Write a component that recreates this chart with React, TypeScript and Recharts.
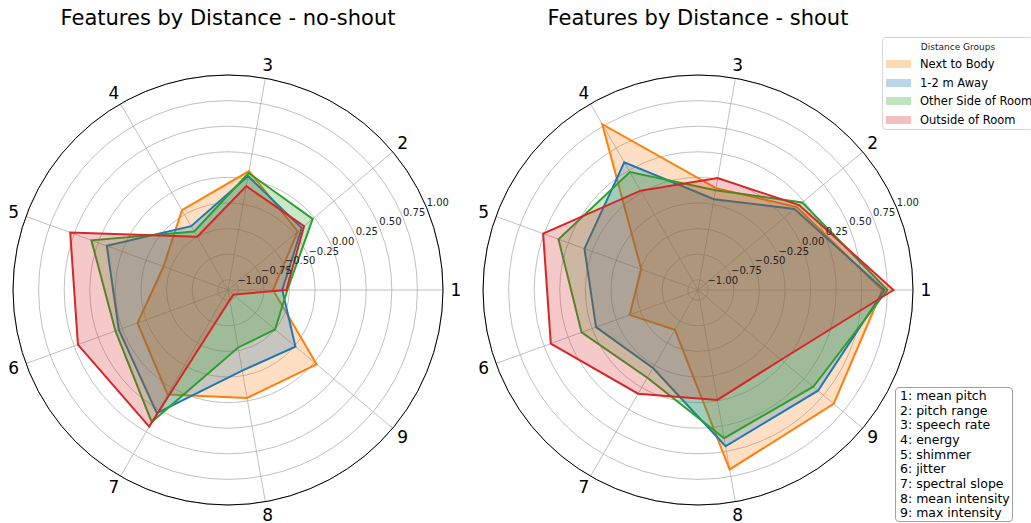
import { RadarChart, Radar, PolarGrid, PolarAngleAxis, PolarRadiusAxis } from 'recharts';

const AXES = ['1', '2', '3', '4', '5', '6', '7', '8', '9'];
const FEATURES = [
  'mean pitch',
  'pitch range',
  'speech rate',
  'energy',
  'shimmer',
  'jitter',
  'spectral slope',
  'mean intensity',
  'max intensity',
];
const RADIUS_TICKS = [-1, -0.75, -0.5, -0.25, 0, 0.25, 0.5, 0.75, 1];

const SERIES = [
  { key: 'next', name: 'Next to Body', color: '#ff7f0e' },
  { key: 'near', name: '1-2 m Away', color: '#1f77b4' },
  { key: 'side', name: 'Other Side of Room', color: '#2ca02c' },
  { key: 'outside', name: 'Outside of Room', color: '#d62728' },
];

// no-shout
const noShoutNext = [-0.66, -0.21, 0.08, -0.2, -0.43, -0.16, 0.08, -0.03, 0.03];
const noShoutNear = [-0.57, -0.16, 0.03, -0.38, 0.16, 0.035, 0.29, -0.3, -0.24];
const noShoutSide = [-0.52, -0.02, 0.06, -0.44, 0.32, 0.07, 0.39, -0.53, -0.5];
const noShoutOutside = [-0.53, -0.13, -0.07, -0.5, 0.54, 0.46, 0.44, -1.0, -1.03];

// shout
const shoutNext = [0.7, 0.16, -0.09, 0.77, -0.51, -0.39, -0.65, 0.68, 0.63];
const shoutNear = [0.72, 0.13, -0.2, 0.34, 0.08, -0.04, -0.22, 0.45, 0.43];
const shoutSide = [0.75, 0.23, -0.11, 0.23, 0.35, 0.11, -0.11, 0.37, 0.37];
const shoutOutside = [0.81, 0.19, 0.01, 0.02, 0.51, 0.43, 0.07, -0.01, -0.04];

// recharts only lines ticks and points up when going clockwise, so the
// categories are fed as 1, 9, 8, ... 2 to read counter-clockwise like the original
const ORDER = [0, 8, 7, 6, 5, 4, 3, 2, 1];

const buildData = (next: number[], near: number[], side: number[], outside: number[]) =>
  ORDER.map((i) => ({ axis: AXES[i], next: next[i], near: near[i], side: side[i], outside: outside[i] }));

const noShoutData = buildData(noShoutNext, noShoutNear, noShoutSide, noShoutOutside);
const shoutData = buildData(shoutNext, shoutNear, shoutSide, shoutOutside);

const FONT = '"DejaVu Sans", sans-serif';
const CX = 228;
const CY = 290;
const R = 215;

const fmtTick = (v: number) => (v < 0 ? '\u2212' : '') + Math.abs(v).toFixed(2);

const renderAngleTick = (props: any) => {
  const a = (props.payload.coordinate * Math.PI) / 180;
  const x = CX + (R + 13) * Math.cos(a);
  const y = CY - (R + 13) * Math.sin(a);
  return (
    <text x={x} y={y} textAnchor="middle" dominantBaseline="central" fontSize={17} fontFamily={FONT} fill="#000">
      {props.payload.value}
    </text>
  );
};

const renderRadiusTick = (props: any) => (
  <text x={props.x} y={props.y - 2} textAnchor="start" fontSize={10} fontFamily={FONT} fill="#222">
    {fmtTick(props.payload.value)}
  </text>
);

function RadarPanel({ title, data, left }: { title: string; data: any[]; left: number }) {
  return (
    <div style={{ position: 'absolute', left, top: 0, width: 470, height: 523 }}>
      <div
        style={{
          position: 'absolute',
          left: CX - 235,
          top: 3,
          width: 470,
          textAlign: 'center',
          fontSize: 21,
          lineHeight: '30px',
          fontFamily: FONT,
          color: '#000',
        }}
      >
        {title}
      </div>
      <RadarChart
        width={470}
        height={523}
        data={data}
        cx={CX}
        cy={CY}
        innerRadius={0}
        outerRadius={R}
        startAngle={0}
        endAngle={-360}
        margin={{ top: 0, right: 0, bottom: 0, left: 0 }}
      >
        <PolarGrid gridType="circle" stroke="#b0b0b0" strokeWidth={0.8} />
        <PolarAngleAxis
          dataKey="axis"
          axisLineType="circle"
          stroke="#000"
          strokeWidth={1}
          tickLine={false}
          tick={renderAngleTick}
        />
        <PolarRadiusAxis
          type="number"
          angle={22.5}
          domain={[-1.1, 1]}
          ticks={RADIUS_TICKS}
          axisLine={false}
          tickLine={false}
          tick={renderRadiusTick}
        />
        {SERIES.map((s) => (
          <Radar
            key={s.key}
            dataKey={s.key}
            name={s.name}
            stroke={s.color}
            strokeWidth={2}
            fill={s.color}
            fillOpacity={0.25}
            dot={false}
            isAnimationActive={false}
          />
        ))}
      </RadarChart>
    </div>
  );
}

export default function App() {
  return (
    <div
      style={{
        position: 'absolute',
        left: 0,
        top: 0,
        width: 1031,
        height: 523,
        overflow: 'hidden',
        background: '#fff',
        fontFamily: FONT,
      }}
    >
      <RadarPanel title="Features by Distance - no-shout" data={noShoutData} left={0} />
      <RadarPanel title="Features by Distance - shout" data={shoutData} left={470} />

      <div
        style={{
          position: 'absolute',
          left: 882,
          top: 37,
          width: 152,
          height: 93,
          border: '1px solid #d6d6d6',
          borderRadius: 4,
          background: 'rgba(255,255,255,0.85)',
          boxSizing: 'border-box',
        }}
      >
        <div style={{ textAlign: 'center', fontSize: 9, lineHeight: '12px', marginTop: 3, color: '#222' }}>
          Distance Groups
        </div>
        {SERIES.map((s, i) => (
          <div
            key={s.key}
            style={{ position: 'absolute', left: 0, top: 17 + i * 18.7, height: 18, width: 148, whiteSpace: 'nowrap' }}
          >
            <div
              style={{
                position: 'absolute',
                left: 3,
                top: 5,
                width: 25,
                height: 8,
                background: s.color,
                opacity: 0.3,
              }}
            />
            <div style={{ position: 'absolute', left: 37, top: 0, fontSize: 11.5, lineHeight: '18px', color: '#000' }}>
              {s.name}
            </div>
          </div>
        ))}
      </div>

      <div
        style={{
          position: 'absolute',
          left: 895,
          top: 387,
          width: 118,
          height: 135,
          border: '1px solid #a0a0a0',
          borderRadius: 4,
          background: '#fff',
          boxSizing: 'border-box',
          paddingLeft: 4,
          paddingTop: 1,
        }}
      >
        {FEATURES.map((f, i) => (
          <div key={f} style={{ fontSize: 12.5, lineHeight: '14.67px', whiteSpace: 'nowrap', color: '#000' }}>
            {`${i + 1}: ${f}`}
          </div>
        ))}
      </div>
    </div>
  );
}
